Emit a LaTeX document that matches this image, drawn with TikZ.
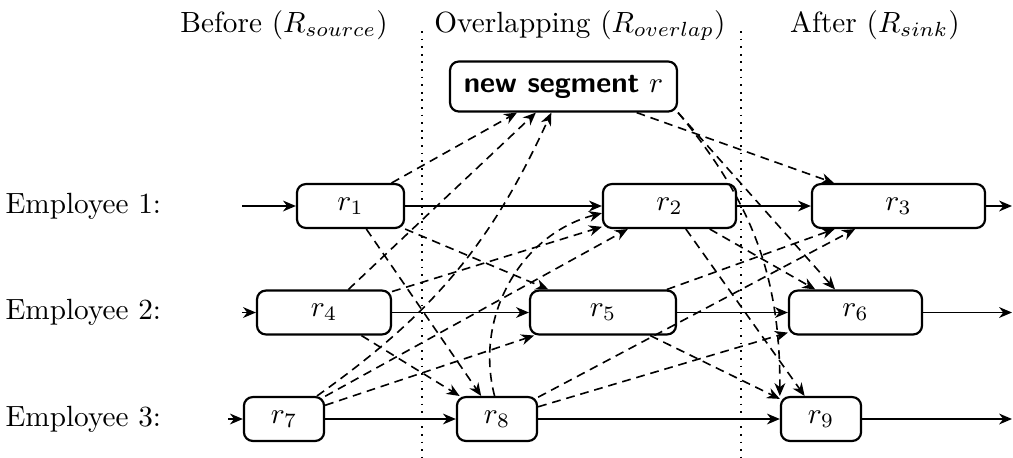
\documentclass[tikz,border=0pt]{standalone}
\usetikzlibrary{arrows.meta}
\begin{document}
\begin{tikzpicture}[x=0.342pt,y=-0.342pt,
  seg/.style={draw, line width=0.75pt, rounded corners=3pt, minimum height=15pt, inner sep=0pt},
  conn/.style={line width=0.55pt, -{Stealth[length=4.4pt,width=3.7pt,inset=1.4pt]}},
  dep/.style={conn, dash pattern=on 3pt off 2pt},
  sepline/.style={line width=0.6pt, dotted},
  emp/.style={anchor=west, inner sep=0pt},
  head/.style={anchor=base}]
\useasboundingbox (0,0) rectangle (1013,457);

% headings
\node[head] (h1) at (284,32) {Before ($R_{source}$)};
\node[head] (h2) at (580,32) {Overlapping ($R_{overlap}$)};
\node[head] (h3) at (875,32) {After ($R_{sink}$)};

% separators
\coordinate (d1t) at (422,31);
\coordinate (d1b) at (422,457);
\coordinate (d2t) at (741,31);
\coordinate (d2b) at (741,457);
\draw[sepline] (d1t) -- (d1b);
\draw[sepline] (d2t) -- (d2b);

% employee labels
\node[emp] (e1) at (5,206) {Employee 1:};
\node[emp] (e2) at (5,312.5) {Employee 2:};
\node[emp] (e3) at (5,419) {Employee 3:};

% segments
\node[seg, minimum width=77.6pt, minimum height=17.1pt, inner sep=3pt] (r) at (563.5,86.5) {\textsf{\textbf{new segment}} $r$};
\node[seg, minimum width=36.6pt] (r1) at (350.5,206) {$r_1$};
\node[seg, minimum width=45.5pt] (r2) at (669.5,206) {$r_2$};
\node[seg, minimum width=59.2pt] (r3) at (898.5,206) {$r_3$};
\node[seg, minimum width=45.8pt] (r4) at (324,312.5) {$r_4$};
\node[seg, minimum width=49.9pt] (r5) at (603,312.5) {$r_5$};
\node[seg, minimum width=45.5pt] (r6) at (855.5,312.5) {$r_6$};
\node[seg, minimum width=27.4pt] (r7) at (284,419) {$r_7$};
\node[seg, minimum width=27.4pt] (r8) at (497,419) {$r_8$};
\node[seg, minimum width=27.4pt] (r9) at (821,419) {$r_9$};

% free ends
\coordinate (in1) at (242,206);
\coordinate (in2) at (242,312.5);
\coordinate (in3) at (228,419);
\coordinate (out1) at (1012,206);
\coordinate (out2) at (1012,312.5);
\coordinate (out3) at (1012,419);

% solid sequence arrows
\draw[conn] (in1) -- (r1);
\draw[conn] (r1) -- (r2);
\draw[conn] (r2) -- (r3);
\draw[conn] (r3) -- (out1);
\draw[conn] (in2) -- (r4);
\draw[conn] (r4) -- (r5);
\draw[conn] (r5) -- (r6);
\draw[conn] (r6) -- (out2);
\draw[conn] (in3) -- (r7);
\draw[conn] (r7) -- (r8);
\draw[conn] (r8) -- (r9);
\draw[conn] (r9) -- (out3);

% dashed dependencies into r
\draw[dep] (r1) -- (r);
\draw[dep] (r4) -- (r);
\draw[dep] (r7) to[bend right=15] (r);
% dashed dependencies out of r
\draw[dep] (r) -- (r3);
\draw[dep] (r.south east) -- (r6);
\draw[dep] (r.south east) to[bend left=20] (r9.north west);
% source -> overlap
\draw[dep] (r1) -- (r5);
\draw[dep] (r1) -- (r8);
\draw[dep] (r4) -- (r2);
\draw[dep] (r4) -- (r8);
\draw[dep] (r7) -- (r2);
\draw[dep] (r7) -- (r5);
% overlap -> overlap
\draw[dep] (r8) to[bend left=45] (r2);
% overlap -> sink
\draw[dep] (r2) -- (r6);
\draw[dep] (r2) -- (r9);
\draw[dep] (r5) -- (r3);
\draw[dep] (r5) -- (r9);
\draw[dep] (r8) -- (r3);
\draw[dep] (r8) -- (r6);
\end{tikzpicture}
\end{document}
